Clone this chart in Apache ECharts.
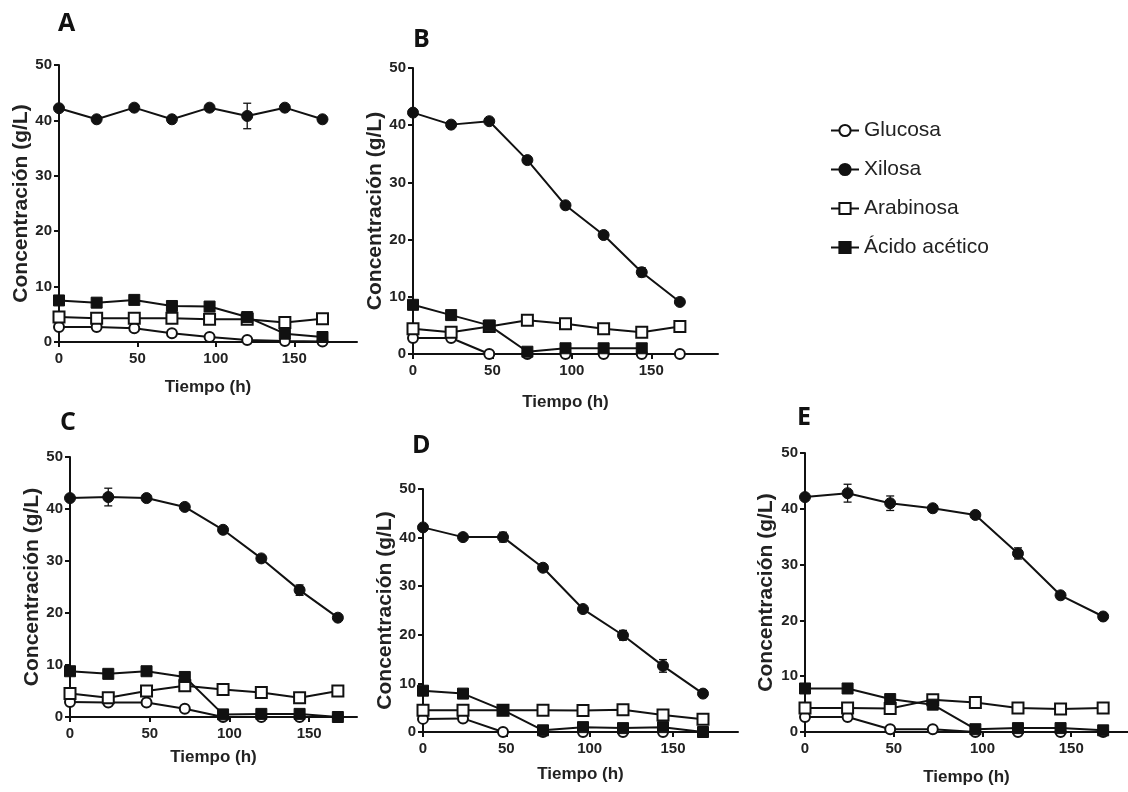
<!DOCTYPE html>
<html>
<head>
<meta charset="utf-8">
<script src="https://cdn.jsdelivr.net/npm/echarts@6/dist/echarts.min.js"></script>
<style>
  html, body { margin: 0; padding: 0; background: #fff; }
  #chart { width: 1128px; height: 792px; }
</style>
</head>
<body>
<div id="chart"></div>
<script>
// tiempos de muestreo (h)
const hours = [0, 24, 48, 72, 96, 120, 144, 168];
const seriesNames = ['Glucosa', 'Xilosa', 'Arabinosa', 'Ácido acético'];
const panelLabels = ['A', 'B', 'C', 'D', 'E'];
const xTickValues = [0, 50, 100, 150];

// Panel A
const glucA = [2.7, 2.7, 2.5, 1.6, 0.9, 0.35, 0.2, 0.1];
const xilA = [42.2, 40.2, 42.3, 40.2, 42.3, 40.8, 42.3, 40.2];
const xilErrA = [0.3, 0.3, 0.3, 0.3, 0.3, 2.3, 0.3, 0.3];
const araA = [4.5, 4.3, 4.3, 4.3, 4.1, 4.1, 3.5, 4.2];
const aceA = [7.5, 7.1, 7.6, 6.5, 6.4, 4.5, 1.5, 0.9];

// Panel B
const glucB = [2.8, 2.8, 0, 0, 0, 0, 0, 0];
const xilB = [42.2, 40.1, 40.7, 33.9, 26.0, 20.8, 14.3, 9.1];
const xilErrB = [0.3, 0.3, 0.3, 0.6, 0.3, 0.3, 0.8, 0.3];
const araB = [4.4, 3.8, 4.8, 5.9, 5.3, 4.4, 3.8, 4.8];
const aceB = [8.6, 6.8, 5.0, 0.4, 1.0, 1.0, 1.0, null];

// Panel C
const glucC = [2.9, 2.8, 2.8, 1.6, 0, 0, 0, 0];
const xilC = [42.1, 42.3, 42.1, 40.4, 36.0, 30.5, 24.4, 19.1];
const xilErrC = [0.3, 1.7, 0.3, 0.3, 0.3, 0.3, 1.0, 0.3];
const araC = [4.5, 3.7, 5.0, 6.0, 5.3, 4.7, 3.7, 5.0];
const aceC = [8.8, 8.3, 8.8, 7.7, 0.5, 0.6, 0.6, 0];

// Panel D
const glucD = [2.7, 2.8, 0, 0, 0, 0, 0, 0];
const xilD = [42.1, 40.1, 40.1, 33.8, 25.3, 19.9, 13.6, 7.9];
const xilErrD = [0.3, 0.3, 1.0, 0.4, 0.4, 1.0, 1.3, 0.3];
const araD = [4.5, 4.5, 4.5, 4.5, 4.4, 4.6, 3.5, 2.6];
const aceD = [8.5, 7.9, 4.5, 0.35, 1.0, 0.8, 1.0, 0];

// Panel E
const glucE = [2.7, 2.7, 0.5, 0.5, 0, 0, 0, 0];
const xilE = [42.1, 42.8, 41.0, 40.1, 38.9, 32.0, 24.5, 20.7];
const xilErrE = [0.3, 1.6, 1.3, 0.4, 0.4, 1.0, 0.5, 0.3];
const araE = [4.3, 4.3, 4.2, 5.8, 5.3, 4.3, 4.1, 4.3];
const aceE = [7.8, 7.8, 5.9, 4.9, 0.5, 0.7, 0.7, 0.3];

const panelData = [
  [glucA, xilA, araA, aceA, xilErrA],
  [glucB, xilB, araB, aceB, xilErrB],
  [glucC, xilC, araC, aceC, xilErrC],
  [glucD, xilD, araD, aceD, xilErrD],
  [glucE, xilE, araE, aceE, xilErrE]
];

// posicion de cada panel (px)
const layout = [
  { left: 59,  top: 65,  width: 298, height: 277, xMax: 190, xGap: 37, yGap: 27, lbl: [58, 11] },
  { left: 413, top: 68,  width: 305, height: 286, xMax: 192, xGap: 40, yGap: 20, lbl: [413, 27] },
  { left: 70,  top: 457, width: 287, height: 260, xMax: 180, xGap: 32, yGap: 24, lbl: [60, 410] },
  { left: 423, top: 489, width: 315, height: 243, xMax: 189, xGap: 34, yGap: 27, lbl: [412, 433] },
  { left: 805, top: 453, width: 323, height: 279, xMax: 182, xGap: 37, yGap: 28, lbl: [797, 405] }
];

const INK = '#111';
const axisFont = 'Liberation Sans Narrow, Liberation Sans, Arial, sans-serif';

const markerStyle = [
  { symbol: 'circle', symbolSize: 10, itemStyle: { color: '#fff', borderColor: INK, borderWidth: 2 } },
  { symbol: 'circle', symbolSize: 11, itemStyle: { color: INK, borderColor: INK, borderWidth: 1 } },
  { symbol: 'rect',   symbolSize: 11, itemStyle: { color: '#fff', borderColor: INK, borderWidth: 2 } },
  { symbol: 'rect',   symbolSize: 11, itemStyle: { color: INK, borderColor: INK, borderWidth: 1 } }
];

function errRenderItem(params, api) {
  const x = api.value(0), y = api.value(1), e = api.value(2);
  const top = api.coord([x, y + e]);
  const bot = api.coord([x, y - e]);
  const hw = 4;
  const st = { stroke: INK, lineWidth: 1.3 };
  return {
    type: 'group',
    children: [
      { type: 'line', shape: { x1: top[0], y1: top[1], x2: bot[0], y2: bot[1] }, style: st },
      { type: 'line', shape: { x1: top[0] - hw, y1: top[1], x2: top[0] + hw, y2: top[1] }, style: st },
      { type: 'line', shape: { x1: bot[0] - hw, y1: bot[1], x2: bot[0] + hw, y2: bot[1] }, style: st }
    ]
  };
}

const grids = [], xAxes = [], yAxes = [], series = [], titles = [];

layout.forEach((p, i) => {
  grids.push({ left: p.left, top: p.top, width: p.width, height: p.height, containLabel: false });

  xAxes.push({
    type: 'value', gridIndex: i, min: 0, max: p.xMax,
    name: 'Tiempo (h)', nameLocation: 'middle', nameGap: p.xGap,
    nameTextStyle: { fontSize: 17, fontWeight: 'bold', color: '#222', fontFamily: 'Liberation Sans, Arial, sans-serif' },
    axisLine: { lineStyle: { color: INK, width: 2 } },
    axisTick: { show: true, length: 5, lineStyle: { color: INK, width: 2 }, customValues: xTickValues },
    axisLabel: { fontSize: 15, fontWeight: 'bold', color: '#222', margin: 9, fontFamily: axisFont, customValues: xTickValues },
    splitLine: { show: false }
  });

  yAxes.push({
    type: 'value', gridIndex: i, min: 0, max: 50, interval: 10,
    name: 'Concentración (g/L)', nameLocation: 'middle', nameGap: p.yGap, nameRotate: 90,
    nameTextStyle: { fontSize: 21, fontWeight: 'bold', color: '#222', fontFamily: 'Liberation Sans, Arial, sans-serif' },
    axisLine: { show: true, lineStyle: { color: INK, width: 2 } },
    axisTick: { show: true, length: 5, lineStyle: { color: INK, width: 2 } },
    axisLabel: { fontSize: 15, fontWeight: 'bold', color: '#222', margin: 7, fontFamily: axisFont },
    splitLine: { show: false }
  });

  titles.push({
    text: panelLabels[i], left: p.lbl[0], top: p.lbl[1], padding: 0,
    textStyle: { fontSize: 25, fontWeight: 'bold', color: '#111', fontFamily: 'Open Sans, sans-serif' }
  });

  const d = panelData[i];
  // barras de error de xilosa
  series.push({
    type: 'custom', name: 'err' + i, xAxisIndex: i, yAxisIndex: i, z: 1,
    renderItem: errRenderItem, encode: { x: 0, y: 1 },
    data: hours.map((h, k) => [h, d[1][k], d[4][k]]),
    silent: true
  });

  seriesNames.forEach((name, s) => {
    series.push(Object.assign({
      type: 'line', name: name, xAxisIndex: i, yAxisIndex: i, z: 3 + s,
      data: hours.map((h, k) => [h, d[s][k]]),
      lineStyle: { color: INK, width: 2 },
      connectNulls: false,
      showSymbol: true,
      animation: false
    }, markerStyle[s]));
  });
});

const option = {
  backgroundColor: '#fff',
  animation: false,
  title: titles,
  legend: {
    data: seriesNames,
    orient: 'vertical',
    left: 825, top: 115,
    itemWidth: 28, itemHeight: 14, itemGap: 18,
    textStyle: { fontSize: 21, lineHeight: 21, color: '#222', fontFamily: 'Liberation Sans, Arial, sans-serif' },
    selectedMode: false
  },
  grid: grids,
  xAxis: xAxes,
  yAxis: yAxes,
  series: series
};

const myChart = echarts.init(document.getElementById('chart'));
myChart.setOption(option);
</script>
</body>
</html>
